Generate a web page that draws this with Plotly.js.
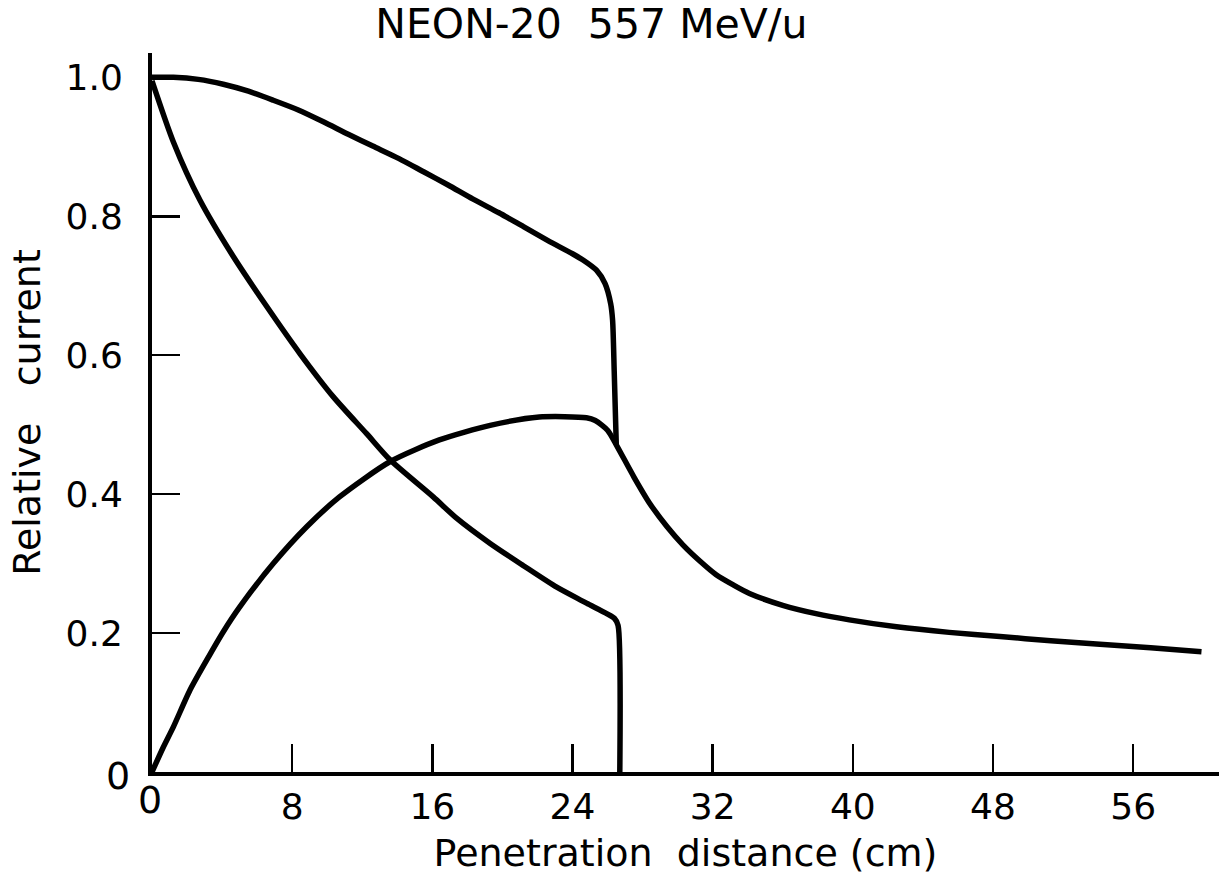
<!DOCTYPE html>
<html>
<head>
<meta charset="utf-8">
<script src="https://cdn.plot.ly/plotly-3.0.1.min.js"></script>
<style>html,body{margin:0;padding:0;background:#fff;}#chart{width:1222px;height:884px;}</style>
</head>
<body>
<div id="chart"></div>
<script>
// Total current (upper curve) until primary beam stops
const totalX = [0, 1.22, 2.64, 4.07, 5.5, 6.92, 8.35, 9.78, 11.2, 12.6, 14.1, 15.5, 16.9, 18.3, 19.8, 21.2, 22.6, 24.0, 24.6, 25.38, 25.86, 26.18, 26.29, 26.38, 26.5];
const totalY = [1.0, 1.0, 0.997, 0.99, 0.98, 0.967, 0.953, 0.936, 0.918, 0.901, 0.883, 0.864, 0.845, 0.825, 0.805, 0.785, 0.765, 0.746, 0.737, 0.722, 0.703, 0.674, 0.65, 0.578, 0.471];

// Primary ions (descending curve)
const primaryX = [0, 1.22, 2.74, 4.64, 6.55, 8.45, 10.35, 12.25, 13.6, 16.05, 17.4, 19.3, 21.2, 23.1, 24.8, 26.4, 26.6, 26.7];
const primaryY = [0.995, 0.907, 0.823, 0.742, 0.67, 0.602, 0.54, 0.487, 0.449, 0.396, 0.365, 0.329, 0.297, 0.266, 0.243, 0.221, 0.211, 0];

// Fragments (rising curve, continuing as the tail beyond the stopping point)
const fragX = [0, 0.65, 1.22, 2.17, 3.12, 4.07, 5.02, 6.92, 8.83, 10.7, 13.6, 16.4, 19.3, 22.1, 24.8, 25.3, 26.0, 26.5, 27.5, 28.4, 29.4, 30.3, 31.3, 32.2, 33.2, 34.1, 36.0, 37.9, 39.8, 42.5, 45.5, 48.4, 51.3, 54.1, 57.0, 59.9];
const fragY = [0, 0.036, 0.065, 0.118, 0.161, 0.202, 0.238, 0.3, 0.353, 0.396, 0.447, 0.478, 0.499, 0.511, 0.51, 0.506, 0.492, 0.471, 0.425, 0.387, 0.353, 0.327, 0.303, 0.284, 0.269, 0.257, 0.24, 0.228, 0.219, 0.209, 0.201, 0.195, 0.189, 0.184, 0.179, 0.173];

const xTickVals = [8, 16, 24, 32, 40, 48, 56];
const xTickText = ['8', '16', '24', '32', '40', '48', '56'];
const yTickVals = [0.2, 0.4, 0.6, 0.8, 1.0];
const yTickText = ['0.2', '0.4', '0.6', '0.8', '1.0'];

const FONT = 'DejaVu Sans, sans-serif';
const lineStyle = {color: '#000', width: 5.5, shape: 'spline', smoothing: 0.7};

const traces = [
  {x: totalX, y: totalY, mode: 'lines', line: lineStyle, name: 'Total', hoverinfo: 'skip'},
  {x: primaryX, y: primaryY, mode: 'lines', line: lineStyle, name: 'Primary', hoverinfo: 'skip'},
  {x: fragX, y: fragY, mode: 'lines', line: lineStyle, name: 'Fragments', hoverinfo: 'skip'}
];

const layout = {
  width: 1222, height: 884,
  margin: {l: 152, r: 3, t: 53, b: 112},
  paper_bgcolor: '#fff', plot_bgcolor: '#fff',
  showlegend: false,
  font: {family: FONT, color: '#000'},
  title: {text: 'NEON-20  557 MeV/u', font: {family: FONT, size: 41, color: '#000'}, x: 0.484, xanchor: 'center', y: 0.973, yanchor: 'middle'},
  xaxis: {
    range: [0, 60.9], showgrid: false, zeroline: false,
    showline: true, linecolor: '#000', linewidth: 4,
    ticks: 'inside', ticklen: 28, tickwidth: 2.5, tickcolor: '#000',
    tickvals: xTickVals, ticktext: xTickText,
    tickfont: {family: FONT, size: 36, color: '#000'},
    ticklabelstandoff: 0,
    title: {text: 'Penetration  distance (cm)', font: {family: FONT, size: 38, color: '#000'}, standoff: 14}
  },
  yaxis: {
    range: [0, 1.035], showgrid: false, zeroline: false,
    showline: true, linecolor: '#000', linewidth: 4,
    ticks: 'inside', ticklen: 28, tickwidth: 2.5, tickcolor: '#000',
    tickvals: yTickVals, ticktext: yTickText,
    tickfont: {family: FONT, size: 36, color: '#000'},
    ticklabelstandoff: 18,
    title: {text: 'Relative   current', font: {family: FONT, size: 38, color: '#000'}, standoff: 14}
  },
  annotations: [
    {x: 0, y: 0, xref: 'x', yref: 'y', text: '0', showarrow: false, xanchor: 'right', yanchor: 'middle', xshift: -20, yshift: -4, font: {family: FONT, size: 38, color: '#000'}},
    {x: 0, y: 0, xref: 'x', yref: 'y', text: '0', showarrow: false, xanchor: 'center', yanchor: 'top', xshift: -2, yshift: -4, font: {family: FONT, size: 38, color: '#000'}}
  ]
};

Plotly.newPlot('chart', traces, layout, {displayModeBar: false, staticPlot: true});
</script>
</body>
</html>
